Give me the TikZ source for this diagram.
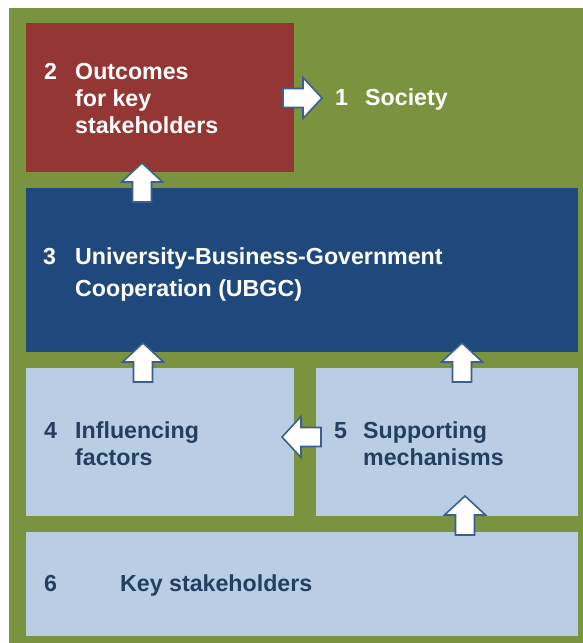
\documentclass[tikz,border=0pt]{standalone}
\usepackage{fontspec}
\setmainfont{Liberation Sans}
\definecolor{framegreen}{HTML}{7A933E}
\definecolor{outred}{HTML}{943634}
\definecolor{coopblue}{HTML}{1F497D}
\definecolor{paleblue}{HTML}{B9CDE5}
\definecolor{inktext}{HTML}{243F60}
\definecolor{arrowedge}{HTML}{3C5F91}
\tikzset{
  panel/.style={anchor=north west, inner sep=0pt, outer sep=0pt},
  lbl/.style={anchor=base west, inner sep=0pt, font=\fontsize{23.2}{27}\selectfont\bfseries},
  lightlbl/.style={lbl, text=white},
  darklbl/.style={lbl, text=inktext},
  arrowbody/.style={fill=white, draw=arrowedge, line width=1.6pt, line join=miter},
  blockarr/.pic={
    \draw[arrowbody] (0,0) -- (-19,20.5) -- (-19,9.5) -- (-39,9.5)
      -- (-39,-9.5) -- (-19,-9.5) -- (-19,-20.5) -- cycle;
  }
}
\begin{document}
\begin{tikzpicture}[x=1pt, y=-1pt]
\useasboundingbox (0,0) rectangle (583,643);
% outer frame
\fill[framegreen] (9,8) rectangle (583,643);

% panels
\node[panel, fill=outred, minimum width=268pt, minimum height=149pt] (outcomes) at (26,23) {};
\node[panel, fill=coopblue, minimum width=552pt, minimum height=164pt] (ubgc) at (26,188) {};
\node[panel, fill=paleblue, minimum width=268pt, minimum height=148pt] (factors) at (26,368) {};
\node[panel, fill=paleblue, minimum width=262pt, minimum height=148pt] (mechanisms) at (316,368) {};
\node[panel, fill=paleblue, minimum width=552pt, minimum height=104pt] (stakeholders) at (26,532) {};

% block arrows
\pic at (322,98) {blockarr};
\pic[rotate=90] at (142,163) {blockarr};
\pic[rotate=90] at (143,343) {blockarr};
\pic[rotate=90] at (462,343) {blockarr};
\pic[rotate=180] at (282,437) {blockarr};
\pic[rotate=90] at (465,496) {blockarr};

% labels
\node[lightlbl] (n2) at (44,79) {2};
\node[lightlbl] (t2a) at (75,79) {Outcomes};
\node[lightlbl] (t2b) at (75,106) {for key};
\node[lightlbl] (t2c) at (75,133) {stakeholders};

\node[lightlbl] (n1) at (335,105) {1};
\node[lightlbl] (t1) at (365,105) {Society};

\node[lightlbl] (n3) at (43,264) {3};
\node[lightlbl] (t3a) at (75,264) {University-Business-Government};
\node[lightlbl] (t3b) at (75,296) {Cooperation (UBGC)};

\node[darklbl] (n4) at (44,438) {4};
\node[darklbl] (t4a) at (75,438) {Influencing};
\node[darklbl] (t4b) at (75,465) {factors};

\node[darklbl] (n5) at (334,438) {5};
\node[darklbl] (t5a) at (363,438) {Supporting};
\node[darklbl] (t5b) at (363,465) {mechanisms};

\node[darklbl] (n6) at (44,591) {6};
\node[darklbl] (t6) at (120,591) {Key stakeholders};
\end{tikzpicture}
\end{document}
